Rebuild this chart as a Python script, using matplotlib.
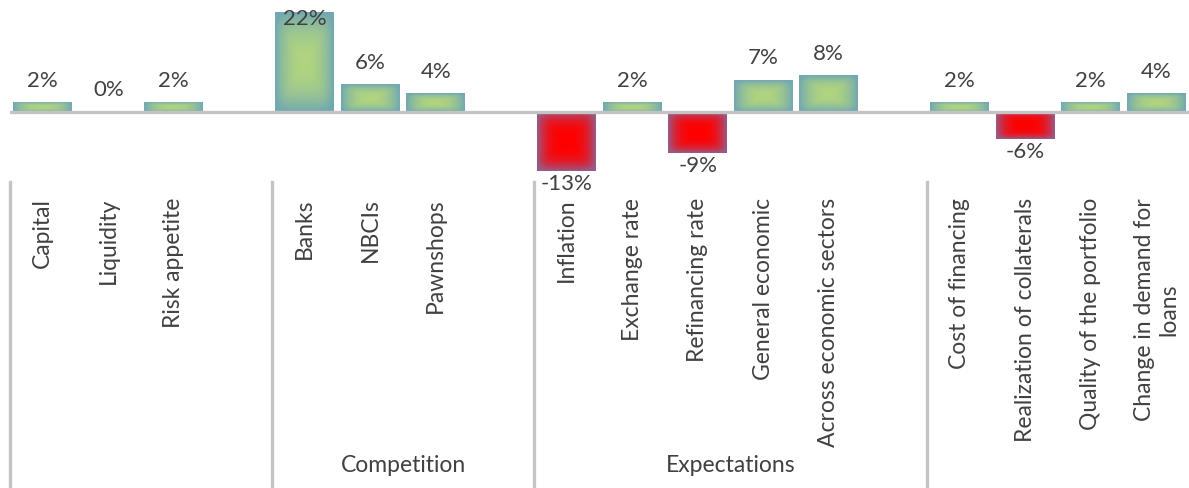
import numpy as np
import matplotlib
matplotlib.use("Agg")
import matplotlib.pyplot as plt
from matplotlib.colors import to_rgb
from matplotlib.transforms import blended_transform_factory

plt.rcParams['font.family'] = ['Lato', 'DejaVu Sans']

# categories (empty strings are gap slots between the groups)
categories = ["Capital", "Liquidity", "Risk appetite", "",
              "Banks", "NBCIs", "Pawnshops", "",
              "Inflation", "Exchange rate", "Refinancing rate", "General economic",
              "Across economic sectors", "",
              "Cost of financing", "Realization of collaterals",
              "Quality of the portfolio", "Change in demand for\nloans"]
values = [2, 0, 2, None,
          22, 6, 4, None,
          -13, 2, -9, 7, 8, None,
          2, -6, 2, 4]
group_names = ["", "Competition", "Expectations", ""]
group_bounds = [(-0.5, 3.5), (3.5, 7.5), (7.5, 13.5), (13.5, 17.5)]

txt_col = "#404040"
grid_col = "#c4c4c4"
pos_edge, pos_mid = to_rgb("#72a9b2"), to_rgb("#b0d47f")
neg_edge, neg_mid = to_rgb("#9a5a86"), to_rgb("#ff0000")

W, H = 1189, 488
fig = plt.figure(figsize=(W / 100, H / 100), dpi=100)
# axes: x from 10px to right edge, y from 12px to 180px (from top)
ax = fig.add_axes([10 / W, (H - 180) / H, (W - 10) / W, 168 / H])

x = np.arange(len(categories))
ylo, yhi = -14.96, 22
ax.set_xlim(-0.5, len(categories) - 0.5)
ax.set_ylim(ylo, yhi)


def gradient_bar(x0, w, v):
    # rectangular "from centre" gradient like the office fill
    edge, mid = (pos_edge, pos_mid) if v > 0 else (neg_edge, neg_mid)
    nx, ny = 120, 120
    gx = np.abs(np.linspace(-1, 1, nx))
    gy = np.abs(np.linspace(-1, 1, ny))
    d = np.clip((gx[None, :] ** 6 + gy[:, None] ** 6) ** (1 / 6), 0, 1)
    t = d ** (3 if v < 0 else 2.2)
    img = np.zeros((ny, nx, 3))
    for k in range(3):
        img[:, :, k] = mid[k] * (1 - t) + edge[k] * t
    y0, y1 = (0, v) if v > 0 else (v, 0)
    ax.imshow(img, extent=(x0, x0 + w, y0, y1), aspect="auto",
              interpolation="bilinear", zorder=2)


bw = 0.9
for xi, v in zip(x, values):
    if v is None:
        continue
    if v != 0:
        gradient_bar(xi - bw / 2, bw, v)
    lab = f"{v}%"
    if v >= 0:
        off = 16
        # label would leave the plot area: put it just inside the bar top
        if v + 16 / 4.545 > yhi:
            off = -13
        ax.annotate(lab, (xi, v), xytext=(0, off), textcoords="offset pixels",
                    ha="center", va="baseline", fontsize=16, color=txt_col,
                    zorder=5, annotation_clip=False)
    else:
        ax.annotate(lab, (xi, v), xytext=(0, -3), textcoords="offset pixels",
                    ha="center", va="top", fontsize=16, color=txt_col,
                    zorder=5, annotation_clip=False)

ax.set_xlim(-0.5, len(categories) - 0.5)
ax.set_ylim(ylo, yhi)

ax.axhline(0, color=grid_col, lw=2.4, zorder=3)

for s in ax.spines.values():
    s.set_visible(False)
ax.set_yticks([])
ax.set_xticks(x)
ax.set_xticklabels(categories, rotation=90, fontsize=16.5, color=txt_col,
                   multialignment="center")
ax.tick_params(axis="x", length=0, pad=13)

# group separators and group names below the labels
tr = blended_transform_factory(ax.transData, fig.transFigure)
for (a, b), name in zip(group_bounds, group_names):
    ax.plot([a, a], [0, (H - 182) / H], transform=tr, color=grid_col,
            lw=2.4, clip_on=False)
    if name:
        ax.text((a + b) / 2, (H - 466) / H, name, transform=tr, ha="center",
                va="center", fontsize=16.5, color=txt_col)

fig.savefig("out.png", dpi=100)
